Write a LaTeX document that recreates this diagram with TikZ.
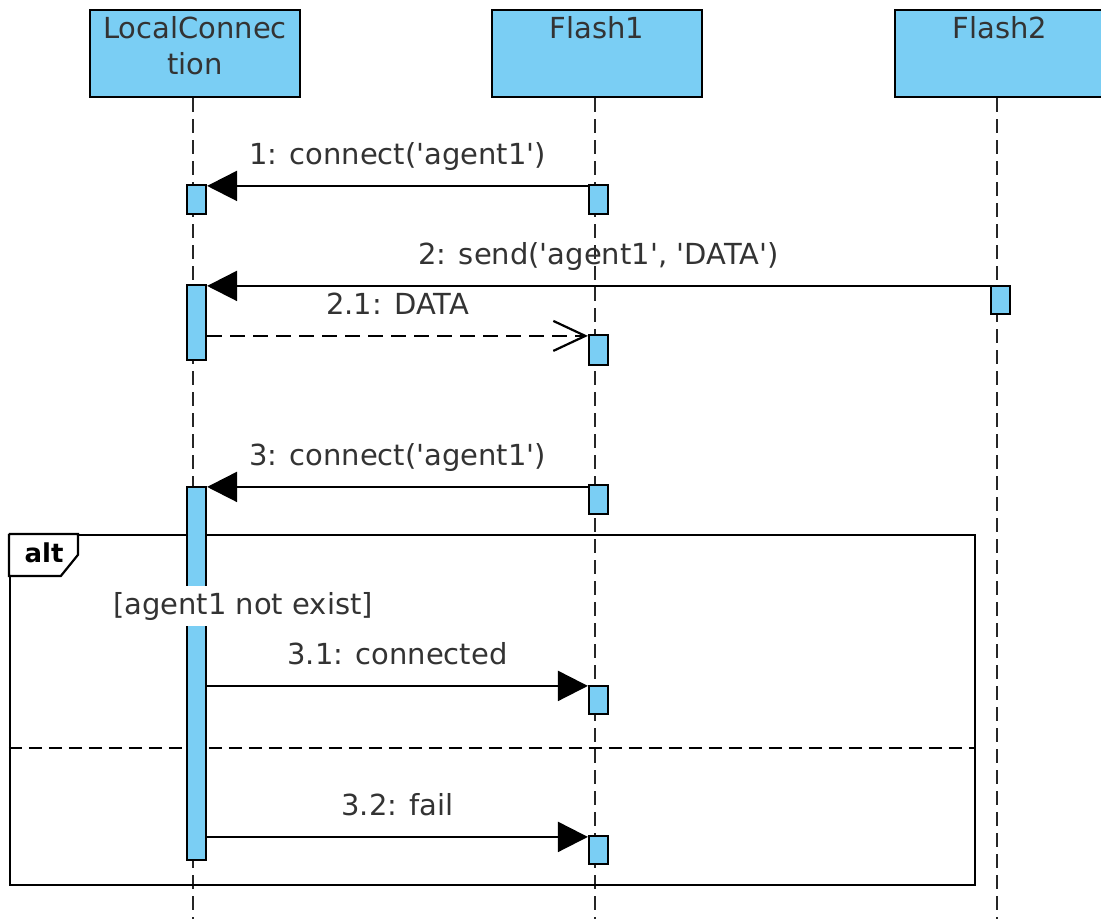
\documentclass[tikz,border=0pt]{standalone}
\usepackage{fontspec}
\setmainfont{DejaVu Sans}[Ligatures=TeXOff]
\usepackage{xcolor}
\usepackage{tikz}
\usetikzlibrary{arrows.meta, positioning, fit, calc}
\definecolor{lifeblue}{HTML}{7ACEF4}
\definecolor{labelgray}{HTML}{333333}

\begin{document}
\begin{tikzpicture}[
    x=0.5pt, y=-0.5pt,
    head/.style={rectangle, draw=black, fill=lifeblue, line width=1.1pt, inner sep=0pt},
    headtext/.style={anchor=north, align=center, inner sep=0pt, text=labelgray,
                     font=\fontsize{14.5}{18}\selectfont},
    lifeline/.style={draw=black!85, line width=1.1pt, dash pattern=on 7pt off 3.5pt},
    act/.style={rectangle, draw=black, fill=lifeblue, line width=1.1pt, inner sep=0pt},
    call/.style={-{Triangle[length=15pt, width=15pt]}, line width=1.1pt},
    reply/.style={-{Straight Barb[length=16pt, width=15pt]}, line width=1.1pt,
                  dash pattern=on 7.5pt off 4pt},
    msglabel/.style={above=7pt, inner sep=0pt, text=labelgray,
                     font=\fontsize{14.5}{18}\selectfont, text height=11pt, text depth=3pt},
    frame/.style={rectangle, draw=black, line width=1.1pt, inner sep=0pt},
    guard/.style={fill=white, inner sep=3pt, text=labelgray, font=\fontsize{14.5}{18}\selectfont},
]
\useasboundingbox (0,0) rectangle (1101,918);
\clip (0,0) rectangle (1101,918);
\coordinate (bottom) at (0,920);

% Lifeline heads
\node[head, fit={(90,10)(300,97)}] (lc) {};
\node[head, fit={(492,10)(702,97)}] (flash1) {};
\node[head, fit={(895,10)(1105,97)}] (flash2) {};
\node[headtext] at ([yshift=-3.5pt]lc.north) {LocalConnec\\tion};
\node[headtext] at ([yshift=-3.5pt]flash1.north) {Flash1};
\node[headtext] at ([yshift=-3.5pt]flash2.north) {Flash2};

% Lifelines
\draw[lifeline] ([xshift=-1pt]lc.south) -- ([xshift=-1pt]lc.south |- bottom);
\draw[lifeline] ([xshift=-1pt]flash1.south) -- ([xshift=-1pt]flash1.south |- bottom);
\draw[lifeline] ([xshift=-1.5pt]flash2.south) -- ([xshift=-1.5pt]flash2.south |- bottom);

% Combined fragment
\node[frame, fit={(10,535)(975,885)}] (alt) {};
\draw[line width=1.1pt, fill=white] (alt.north west) -- ++(69,0) -- ++(0,21) -- ++(-17,21) -| (alt.north west);
\node[font=\fontsize{13}{16}\selectfont\bfseries, inner sep=0pt] at (44,553) {alt};
\draw[line width=1.1pt, dash pattern=on 6.5pt off 3.5pt] (alt.west |- 0,748) -- (alt.east |- 0,748);

% Activations
\node[act, fit={(187,185)(206,214)}] (lc1) {};
\node[act, fit={(187,285)(206,360)}] (lc2) {};
\node[act, fit={(187,487)(206,860)}] (lc3) {};
\node[act, fit={(589,185)(608,214)}] (f1a) {};
\node[act, fit={(589,335)(608,365)}] (f1b) {};
\node[act, fit={(589,485)(608,514)}] (f1c) {};
\node[act, fit={(589,686)(608,714)}] (f1d) {};
\node[act, fit={(589,836)(608,864)}] (f1e) {};
\node[act, fit={(991,286)(1010,314)}] (f2a) {};

% Guard
\node[guard] (cond) at (243,606) {[agent1 not exist]};

% Messages
\draw[call] ([yshift=-1pt]f1a.north west) -- ([yshift=-1pt]lc1.north east)
    node[midway, msglabel] {1: connect('agent1')};
\draw[call] ([yshift=-0.5pt]f2a.north west) -- ([yshift=-0.5pt]f2a.north west -| lc2.east)
    node[midway, msglabel] {2: send('agent1', 'DATA')};
\draw[reply] ([yshift=-1pt]f1b.north west -| lc2.east) -- ([yshift=-1pt]f1b.north west)
    node[midway, msglabel] {2.1: DATA};
\draw[call] ([yshift=-1.5pt]f1c.north west) -- ([yshift=-1.5pt]f1c.north west -| lc3.east)
    node[midway, msglabel] {3: connect('agent1')};
\draw[call] ([yshift=-0.5pt]f1d.north west -| lc3.east) -- ([yshift=-0.5pt]f1d.north west)
    node[midway, msglabel] {3.1: connected};
\draw[call] ([yshift=-1pt]f1e.north west -| lc3.east) -- ([yshift=-1pt]f1e.north west)
    node[midway, msglabel] {3.2: fail};

\end{tikzpicture}
\end{document}
